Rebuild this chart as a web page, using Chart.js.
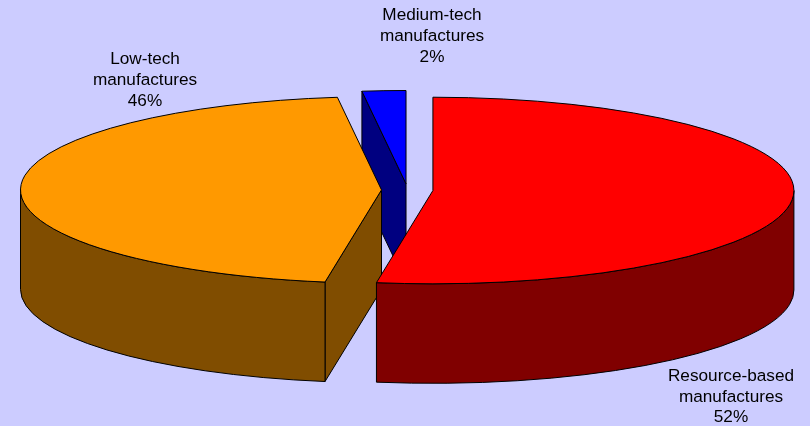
<!DOCTYPE html>
<html>
<head>
<meta charset="utf-8">
<title>Manufactures</title>
<script src="https://cdn.jsdelivr.net/npm/chart.js@4"></script>
<style>
  html, body { margin: 0; padding: 0; background: #CCCCFF; }
  canvas { display: block; }
</style>
</head>
<body>
<canvas id="pie" width="810" height="426"></canvas>
<script>
// data, clockwise from 12 o'clock
const categories = ['Resource-based manufactures', 'Low-tech manufactures', 'Medium-tech manufactures'];
const values = [52.5, 45.55, 1.95];
const percentLabels = ['52%', '46%', '2%'];
const topColors = ['#FF0000', '#FF9900', '#0000FF'];
const sideColors = ['#800000', '#804D00', '#000080'];
const explode = [25.5, 26, 24];

// label text broken in lines like the original
const labelLines = [
    ['Resource-based', 'manufactures'],
    ['Low-tech', 'manufactures'],
    ['Medium-tech', 'manufactures']
];
const labelAnchors = [[731, 376], [145, 59.5], [432, 15.5]];

// shape of the flattened pie
const RX = 361, RY = 93.3, DEPTH = 99.5;
const SHIFT_X = 2.5, SHIFT_Y = -23;
const DRAW_ORDER = [2, 1, 0];

function outline(ctx, fill) {
    ctx.fillStyle = fill;
    ctx.fill();
    ctx.strokeStyle = '#000';
    ctx.lineWidth = 1;
    ctx.stroke();
}

function drawSlice(ctx, arc, i) {
    const a0 = arc.startAngle, a1 = arc.endAngle;
    const mid = (a0 + a1) / 2;
    const off = arc.options.offset;
    const cx = arc.x + SHIFT_X + Math.cos(mid) * off;
    const cy = arc.y + SHIFT_Y + Math.sin(mid) * off * RY / RX;
    const px = a => cx + Math.cos(a) * RX;
    const py = a => cy + Math.sin(a) * RY;

    // cut walls, only the ones facing the viewer
    [[a0, -Math.cos(a0) > 1e-6], [a1, Math.cos(a1) > 1e-6]].forEach(([a, visible]) => {
        if (!visible) return;
        ctx.beginPath();
        ctx.moveTo(cx, cy);
        ctx.lineTo(px(a), py(a));
        ctx.lineTo(px(a), py(a) + DEPTH);
        ctx.lineTo(cx, cy + DEPTH);
        ctx.closePath();
        outline(ctx, sideColors[i]);
    });

    // outer wall, front half of the ellipse only
    const s = Math.max(a0, 0), e = Math.min(a1, Math.PI);
    if (e > s) {
        ctx.beginPath();
        ctx.ellipse(cx, cy, RX, RY, 0, s, e);
        ctx.lineTo(px(e), py(e) + DEPTH);
        ctx.ellipse(cx, cy + DEPTH, RX, RY, 0, e, s, true);
        ctx.closePath();
        outline(ctx, sideColors[i]);
    }

    // top face
    ctx.beginPath();
    ctx.moveTo(cx, cy);
    ctx.ellipse(cx, cy, RX, RY, 0, a0, a1);
    ctx.closePath();
    outline(ctx, arc.options.backgroundColor);
}

const pie3d = {
    id: 'pie3d',
    beforeDatasetDraw(chart) {
        const ctx = chart.ctx;
        const arcs = chart.getDatasetMeta(0).data;
        ctx.save();
        DRAW_ORDER.forEach(i => drawSlice(ctx, arcs[i], i));
        ctx.restore();
        return false; // slices already drawn above
    },
    afterDraw(chart) {
        const ctx = chart.ctx;
        ctx.save();
        ctx.fillStyle = '#000';
        ctx.font = '17.2px "Liberation Sans", Arial, sans-serif';
        ctx.textAlign = 'center';
        ctx.textBaseline = 'middle';
        labelLines.forEach((lines, i) => {
            const [x, y] = labelAnchors[i];
            lines.concat(percentLabels[i]).forEach((t, n) => ctx.fillText(t, x, y + n * 20.8));
        });
        ctx.restore();
    }
};

new Chart(document.getElementById('pie'), {
    type: 'pie',
    data: {
        labels: categories,
        datasets: [{
            data: values,
            backgroundColor: topColors,
            offset: explode,
            borderWidth: 0
        }]
    },
    options: {
        responsive: false,
        animation: false,
        events: [],
        plugins: {
            legend: { display: false },
            tooltip: { enabled: false }
        }
    },
    plugins: [pie3d]
});
</script>
</body>
</html>
